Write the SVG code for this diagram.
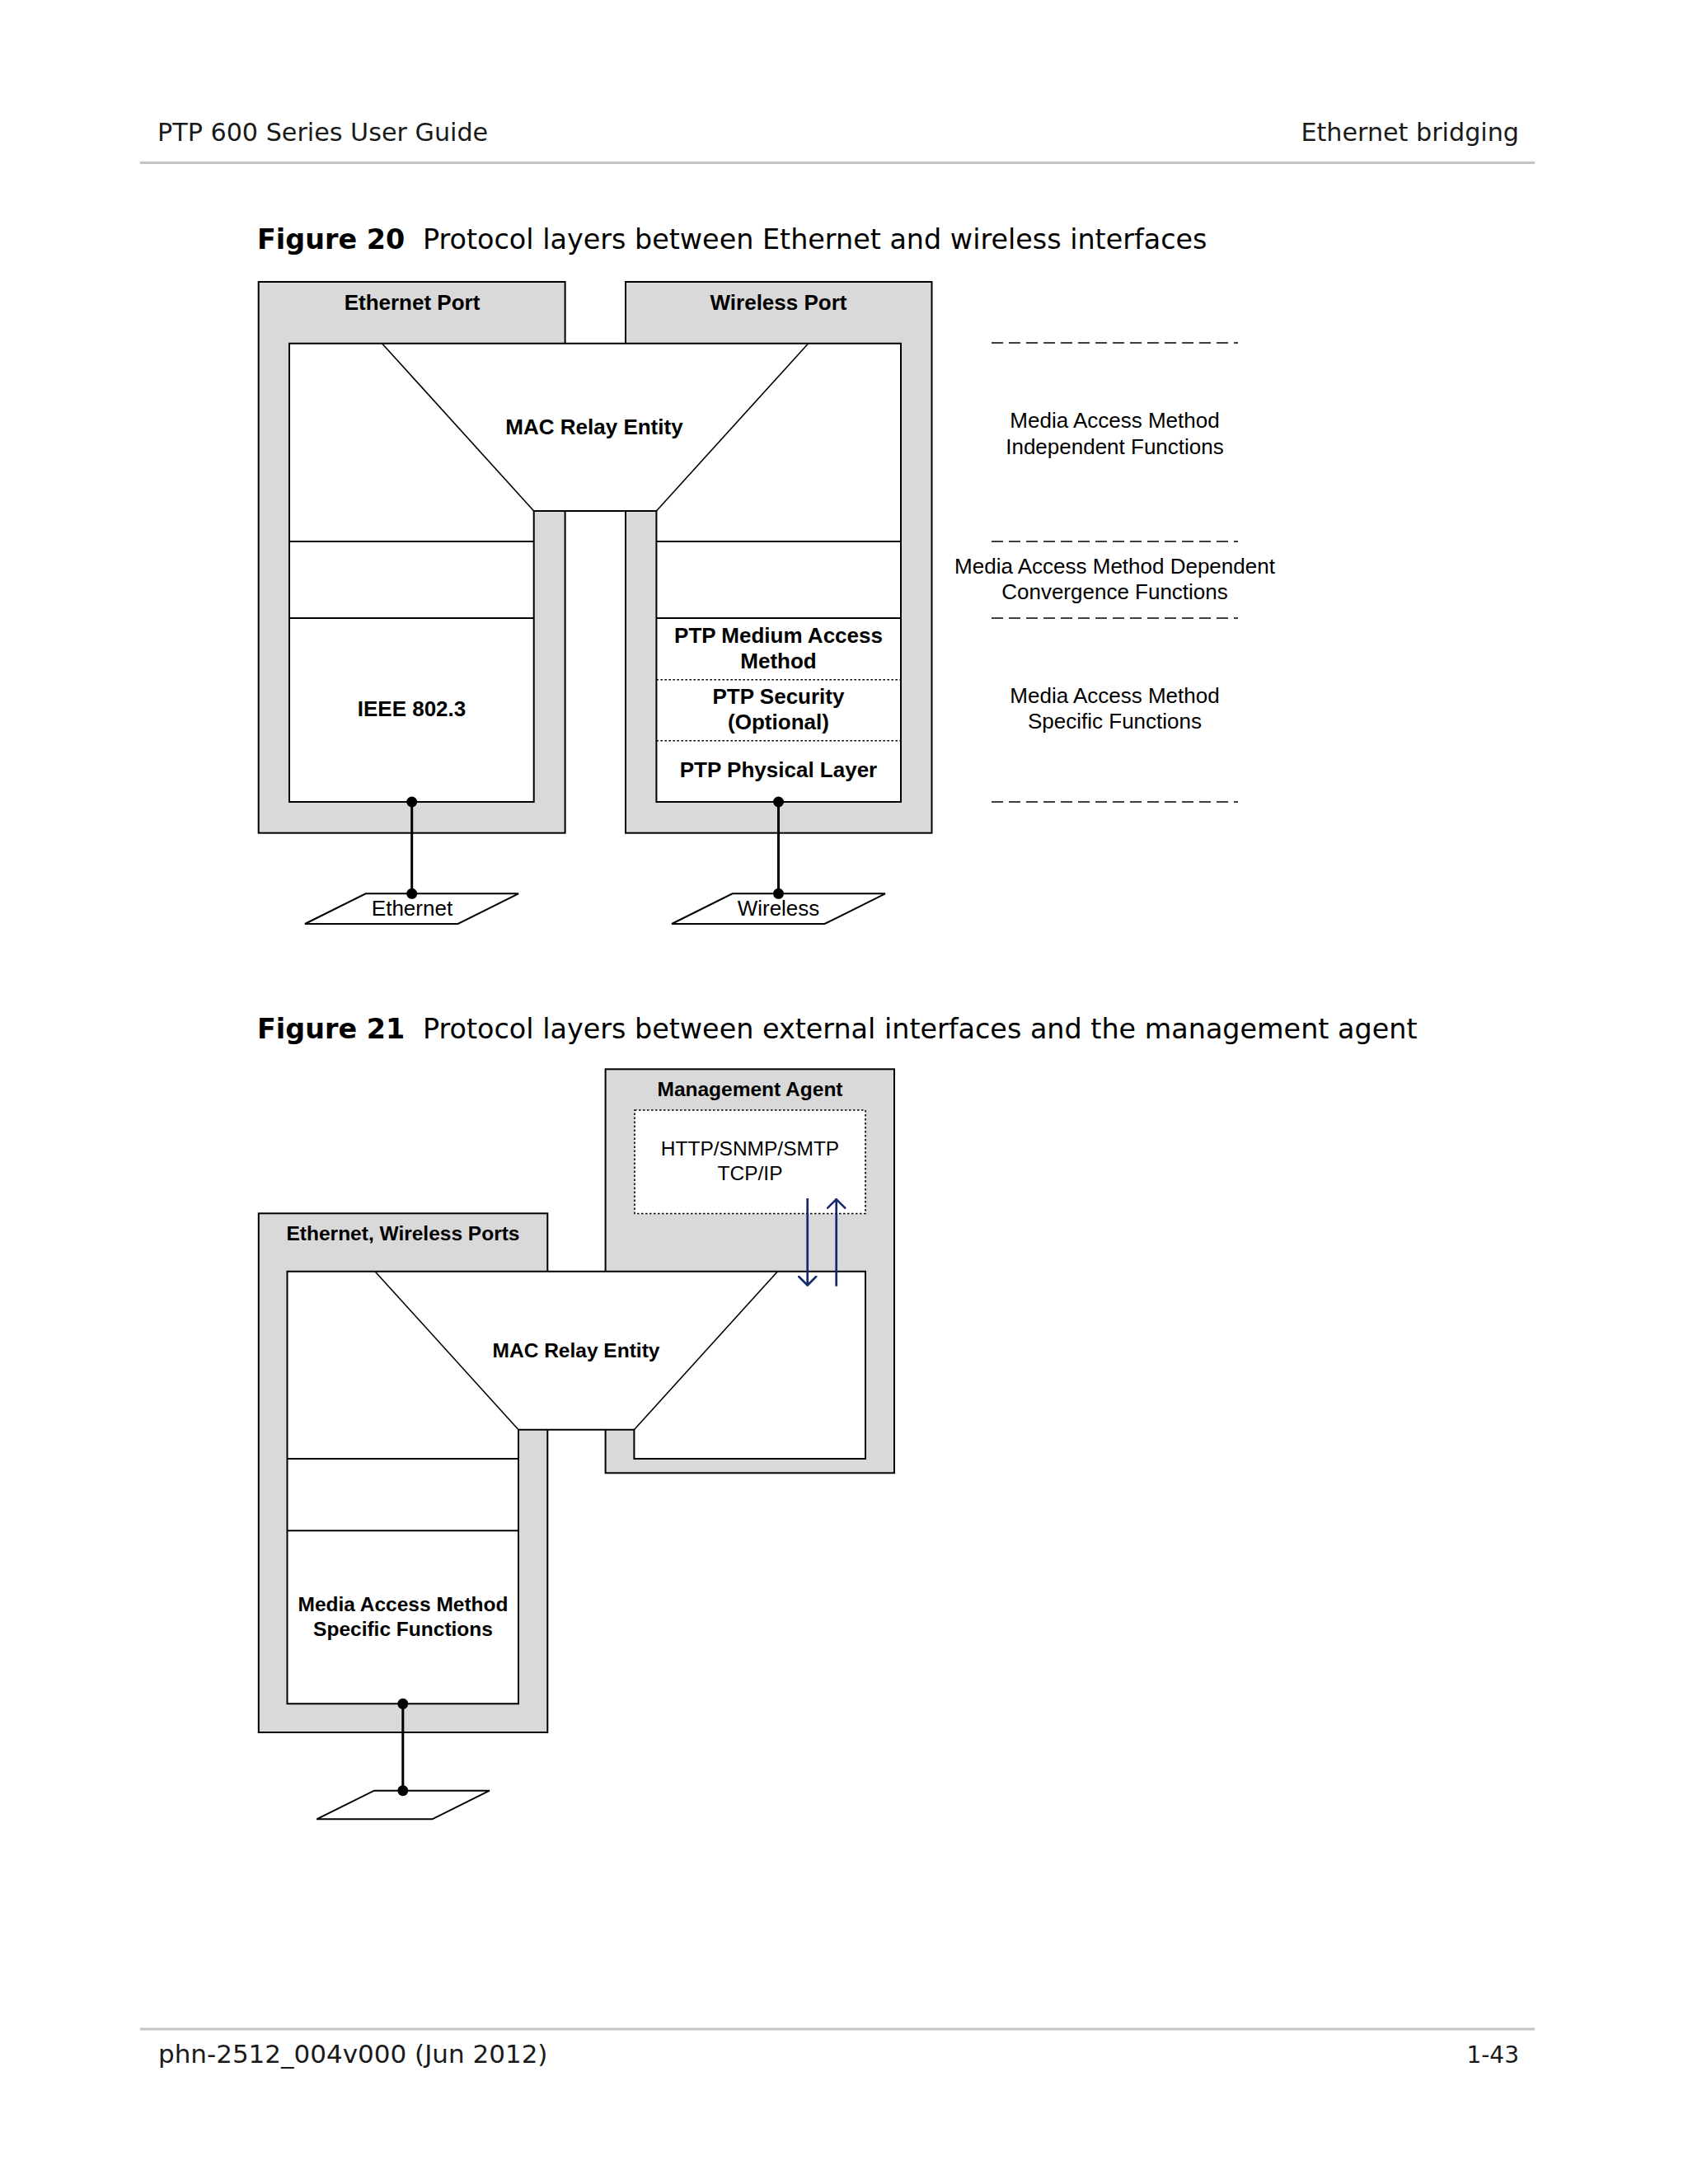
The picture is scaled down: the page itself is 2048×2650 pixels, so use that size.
<svg xmlns="http://www.w3.org/2000/svg" width="2048" height="2650" viewBox="0 0 2048 2650">
<defs>
<style>
.page{font-family:"DejaVu Sans","Verdana",sans-serif;fill:#1a1a1a}
.cap{font-family:"DejaVu Sans","Verdana",sans-serif;font-size:33.4px;fill:#000}
.b26{font-family:"Liberation Sans",Arial,sans-serif;font-weight:bold;font-size:26px;fill:#000;text-anchor:middle}
.r26{font-family:"Liberation Sans",Arial,sans-serif;font-size:26px;fill:#000;text-anchor:middle}
.b24{font-family:"Liberation Sans",Arial,sans-serif;font-weight:bold;font-size:24.5px;fill:#000;text-anchor:middle}
.r24{font-family:"Liberation Sans",Arial,sans-serif;font-size:24.5px;fill:#000;text-anchor:middle}
.outer{fill:#d9d9d9;stroke:#000;stroke-width:2}
.inner{fill:#fff;stroke:#000;stroke-width:2}
.ln{stroke:#000;stroke-width:2;fill:none}
.thin{stroke:#000;stroke-width:1.6;fill:none}
.dot{stroke:#000;stroke-width:1.6;stroke-dasharray:2.5 2.5;fill:none}
.dash{stroke:#000;stroke-width:1.5;stroke-dasharray:14 7;fill:none}
.conn{stroke:#000;stroke-width:3;fill:none}
.arr{stroke:#142a6b;stroke-width:2.7;fill:none}
</style>
<marker id="vhead" viewBox="0 0 14 24" refX="12.5" refY="12" markerWidth="14" markerHeight="24" markerUnits="userSpaceOnUse" orient="auto">
<path d="M1.5,1.5 L12,12 L1.5,22.5" fill="none" stroke="#142a6b" stroke-width="2.6" stroke-linecap="round" stroke-linejoin="round"/>
</marker>
</defs>
<rect width="2048" height="2650" fill="#fff"/>

<!-- page header/footer -->
<g id="header">
<text class="page" x="191" y="171" font-size="30.2">PTP 600 Series User Guide</text>
<text class="page" x="1843" y="171" font-size="30.2" text-anchor="end">Ethernet bridging</text>
<line x1="170" y1="197.5" x2="1862" y2="197.5" stroke="#c4c4c4" stroke-width="3"/>
</g>
<g id="footer">
<line x1="170" y1="2462" x2="1862" y2="2462" stroke="#c4c4c4" stroke-width="3"/>
<text class="page" x="192" y="2503" font-size="31">phn-2512_004v000 (Jun 2012)</text>
<text class="page" x="1843" y="2503" font-size="28" text-anchor="end">1-43</text>
</g>

<!-- Figure 20 -->
<g id="fig20-caption">
<text class="cap" x="312" y="301.7" font-weight="bold" font-size="33">Figure 20</text>
<text class="cap" x="513" y="301.7">Protocol layers between Ethernet and wireless interfaces</text>
</g>

<g id="ethernet-port">
<rect class="outer" x="313.7" y="342" width="371.9" height="668.7"/>
<text class="b26" x="500" y="376">Ethernet Port</text>
</g>
<g id="wireless-port">
<rect class="outer" x="759" y="342" width="371.5" height="668.7"/>
<text class="b26" x="944.5" y="376">Wireless Port</text>
</g>
<g id="fig20-inner">
<path class="inner" d="M351,416.7 H1093 V973 H796.4 V620 H647.7 V973 H351 Z"/>
</g>
<g id="mac-relay-20">
<line class="thin" x1="463.5" y1="416.7" x2="647.7" y2="620"/>
<line class="thin" x1="980.7" y1="416.7" x2="796.4" y2="620"/>
<text class="b26" x="721" y="526.7">MAC Relay Entity</text>
</g>
<g id="eth-layers">
<line class="ln" x1="351" y1="657" x2="647.7" y2="657"/>
<line class="ln" x1="351" y1="750" x2="647.7" y2="750"/>
<text class="b26" x="499.5" y="869.3">IEEE 802.3</text>
</g>
<g id="wl-layers">
<line class="ln" x1="796.4" y1="657" x2="1093" y2="657"/>
<line class="ln" x1="796.4" y1="750" x2="1093" y2="750"/>
<line class="dot" x1="796.4" y1="824.7" x2="1093" y2="824.7"/>
<line class="dot" x1="796.4" y1="898.7" x2="1093" y2="898.7"/>
<text class="b26" x="944.5" y="780">PTP Medium Access</text>
<text class="b26" x="944.5" y="810.7">Method</text>
<text class="b26" x="944.5" y="854.3">PTP Security</text>
<text class="b26" x="944.5" y="885">(Optional)</text>
<text class="b26" x="944.5" y="943.3">PTP Physical Layer</text>
</g>
<g id="ethernet-medium">
<polygon class="inner" points="443.7,1084.3 629,1084.3 555.6,1121 370,1121"/>
<text class="r26" x="500" y="1111">Ethernet</text>
</g>
<g id="wireless-medium">
<polygon class="inner" points="888.6,1084.3 1074,1084.3 1000.5,1121 815,1121"/>
<text class="r26" x="944.5" y="1111">Wireless</text>
</g>
<g id="fig20-legend">
<line class="dash" x1="1203" y1="416" x2="1502" y2="416"/>
<line class="dash" x1="1203" y1="657" x2="1502" y2="657"/>
<line class="dash" x1="1203" y1="750" x2="1502" y2="750"/>
<line class="dash" x1="1203" y1="973" x2="1502" y2="973"/>
<text class="r26" x="1352.5" y="519.3">Media Access Method</text>
<text class="r26" x="1352.5" y="551">Independent Functions</text>
<text class="r26" x="1352.5" y="695.7">Media Access Method Dependent</text>
<text class="r26" x="1352.5" y="726.7">Convergence Functions</text>
<text class="r26" x="1352.5" y="853.3">Media Access Method</text>
<text class="r26" x="1352.5" y="884">Specific Functions</text>
</g>

<!-- Figure 21 -->
<g id="fig21-caption">
<text class="cap" x="312" y="1260" font-weight="bold" font-size="33">Figure 21</text>
<text class="cap" x="513" y="1260">Protocol layers between external interfaces and the management agent</text>
</g>
<g id="management-agent">
<rect class="outer" x="734.6" y="1297.3" width="350.4" height="490"/>
<text class="b24" x="910" y="1330">Management Agent</text>
</g>
<g id="http-tcpip">
<rect x="770" y="1347" width="280" height="125.5" fill="#fff" stroke="#000" stroke-width="1.6" stroke-dasharray="2.5 2.5"/>
<text class="r24" x="910" y="1401.7">HTTP/SNMP/SMTP</text>
<text class="r24" x="910" y="1431.7">TCP/IP</text>
</g>
<g id="ports-21">
<rect class="outer" x="313.8" y="1472.3" width="350.5" height="629.7"/>
<text class="b24" x="489" y="1505">Ethernet, Wireless Ports</text>
</g>
<g id="fig21-inner">
<path class="inner" d="M348.5,1542.7 H1050 V1770 H769.4 V1734.7 H629 V2067.3 H348.5 Z"/>
</g>
<g id="mac-relay-21">
<line class="thin" x1="455" y1="1542.7" x2="629" y2="1734.7"/>
<line class="thin" x1="943.4" y1="1542.7" x2="769.4" y2="1734.7"/>
<text class="b24" x="699" y="1646.7">MAC Relay Entity</text>
</g>
<g id="layers-21">
<line class="ln" x1="348.5" y1="1770" x2="629" y2="1770"/>
<line class="ln" x1="348.5" y1="1857.3" x2="629" y2="1857.3"/>
<text class="b24" x="489" y="1955">Media Access Method</text>
<text class="b24" x="489" y="1984.5">Specific Functions</text>
</g>
<g id="medium-21">
<polygon class="inner" points="454,2172.7 594,2172.7 524.5,2207.3 384.2,2207.3"/>
</g>

<g id="connectors">
<line class="conn" x1="499.7" y1="973" x2="499.7" y2="1084.3"/>
<circle cx="499.7" cy="973" r="6.5"/>
<circle cx="499.7" cy="1084.3" r="6.5"/>
<line class="conn" x1="944.5" y1="973" x2="944.5" y2="1084.3"/>
<circle cx="944.5" cy="973" r="6.5"/>
<circle cx="944.5" cy="1084.3" r="6.5"/>
<line class="conn" x1="488.8" y1="2067.3" x2="488.8" y2="2172.7"/>
<circle cx="488.8" cy="2067.3" r="6.5"/>
<circle cx="488.8" cy="2172.7" r="6.5"/>
<line class="arr" x1="979.7" y1="1454" x2="979.7" y2="1560" marker-end="url(#vhead)"/>
<line class="arr" x1="1014.7" y1="1560.7" x2="1014.7" y2="1454.7" marker-end="url(#vhead)"/>
</g>
</svg>
